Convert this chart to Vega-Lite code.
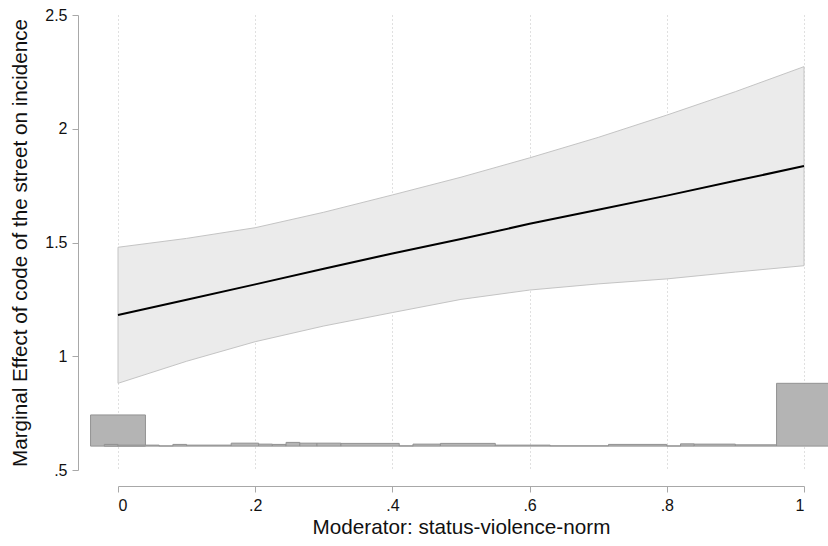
{
  "$schema": "https://vega.github.io/schema/vega-lite/v6.json",
  "width": 686,
  "height": 455,
  "autosize": "none",
  "padding": {"left": 118, "top": 15, "right": 24, "bottom": 76},
  "background": "white",
  "config": {"view": {"stroke": null}, "font": "Liberation Sans"},
  "datasets": {
    "band": [
      {"x": 0.0, "est": 1.181, "lo": 0.881, "hi": 1.479},
      {"x": 0.1, "est": 1.248, "lo": 0.978, "hi": 1.518},
      {"x": 0.2, "est": 1.316, "lo": 1.064, "hi": 1.565},
      {"x": 0.3, "est": 1.385, "lo": 1.133, "hi": 1.633},
      {"x": 0.4, "est": 1.452, "lo": 1.192, "hi": 1.709},
      {"x": 0.5, "est": 1.515, "lo": 1.25, "hi": 1.787},
      {"x": 0.6, "est": 1.582, "lo": 1.291, "hi": 1.872},
      {"x": 0.7, "est": 1.644, "lo": 1.318, "hi": 1.962},
      {"x": 0.8, "est": 1.706, "lo": 1.34, "hi": 2.06},
      {"x": 0.9, "est": 1.771, "lo": 1.37, "hi": 2.163},
      {"x": 1.0, "est": 1.836, "lo": 1.398, "hi": 2.273}
    ],
    "hist": [
      {"x0": -0.04, "x1": 0.04, "top": 0.742},
      {"x0": 0.96, "x1": 1.04, "top": 0.881},
      {"x0": -0.02, "x1": 0.0, "top": 0.6125},
      {"x0": 0.0, "x1": 0.06, "top": 0.6094},
      {"x0": 0.06, "x1": 0.08, "top": 0.606},
      {"x0": 0.08, "x1": 0.1, "top": 0.6125},
      {"x0": 0.1, "x1": 0.165, "top": 0.6094},
      {"x0": 0.165, "x1": 0.205, "top": 0.618},
      {"x0": 0.205, "x1": 0.225, "top": 0.6138},
      {"x0": 0.225, "x1": 0.245, "top": 0.6125},
      {"x0": 0.245, "x1": 0.265, "top": 0.6213},
      {"x0": 0.265, "x1": 0.29, "top": 0.618},
      {"x0": 0.29, "x1": 0.325, "top": 0.618},
      {"x0": 0.325, "x1": 0.41, "top": 0.6169},
      {"x0": 0.41, "x1": 0.43, "top": 0.6063},
      {"x0": 0.43, "x1": 0.47, "top": 0.6138},
      {"x0": 0.47, "x1": 0.55, "top": 0.6169},
      {"x0": 0.55, "x1": 0.63, "top": 0.6094},
      {"x0": 0.63, "x1": 0.715, "top": 0.6063},
      {"x0": 0.715, "x1": 0.8, "top": 0.6125},
      {"x0": 0.8, "x1": 0.82, "top": 0.606},
      {"x0": 0.82, "x1": 0.84, "top": 0.615},
      {"x0": 0.84, "x1": 0.9, "top": 0.6138},
      {"x0": 0.9, "x1": 0.96, "top": 0.6107}
    ]
  },
  "layer": [
    {
      "data": {"name": "band"},
      "mark": {"type": "area", "fill": "#ebebeb", "stroke": "#c4c4c4", "strokeWidth": 1},
      "encoding": {
        "x": {
          "field": "x", "type": "quantitative",
          "scale": {"domain": [0, 1], "nice": false, "zero": false},
          "title": "Moderator: status-violence-norm",
          "axis": {
            "values": [0, 0.2, 0.4, 0.6, 0.8, 1],
            "format": ".1~f",
            "labelExpr": "replace(datum.label, /^0\\./, '.')",
            "offset": 16,
            "domainColor": "#a8a8a8",
            "tickColor": "#a8a8a8",
            "tickSize": 6,
            "labelPadding": 5,
            "labelFontSize": 16,
            "labelColor": "#111111",
            "titleFontSize": 20.7,
            "titleFontWeight": "normal",
            "titleColor": "#111111",
            "titlePadding": 4,
            "grid": true,
            "gridDash": [1, 3],
            "gridColor": "#c0c0c0",
            "gridWidth": 1
          }
        },
        "y": {
          "field": "lo", "type": "quantitative",
          "scale": {"domain": [0.5, 2.5], "nice": false, "zero": false},
          "title": "Marginal Effect of code of the street on incidence",
          "axis": {
            "values": [0.5, 1, 1.5, 2, 2.5],
            "format": ".1~f",
            "labelExpr": "replace(datum.label, /^0\\./, '.')",
            "offset": 40,
            "domainColor": "#a8a8a8",
            "tickColor": "#a8a8a8",
            "tickSize": 6,
            "labelPadding": 5,
            "labelFontSize": 16,
            "labelColor": "#111111",
            "titleFontSize": 20.7,
            "titleFontWeight": "normal",
            "titleColor": "#111111",
            "titlePadding": 14,
            "grid": false
          }
        },
        "y2": {"field": "hi"}
      }
    },
    {
      "data": {"name": "band"},
      "mark": {"type": "line", "color": "#000000", "strokeWidth": 2},
      "encoding": {
        "x": {"field": "x", "type": "quantitative", "title": "Moderator: status-violence-norm"},
        "y": {"field": "est", "type": "quantitative", "title": "Marginal Effect of code of the street on incidence"}
      }
    },
    {
      "data": {"name": "hist"},
      "mark": {"type": "rect", "fill": "#b4b4b4", "stroke": "#929292", "strokeWidth": 1},
      "encoding": {
        "x": {"field": "x0", "type": "quantitative", "title": "Moderator: status-violence-norm"},
        "x2": {"field": "x1"},
        "y": {"field": "top", "type": "quantitative", "title": "Marginal Effect of code of the street on incidence"},
        "y2": {"datum": 0.605}
      }
    }
  ]
}
